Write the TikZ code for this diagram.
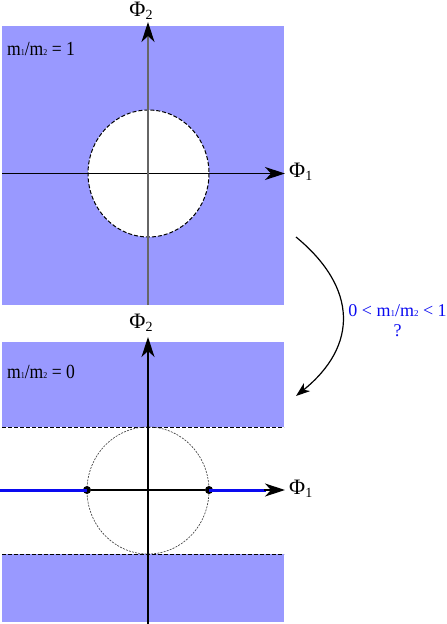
\documentclass[tikz,border=0pt]{standalone}
\usepackage{fontspec}
\setmainfont{Liberation Serif}
\usetikzlibrary{arrows.meta}
\definecolor{region}{RGB}{153,153,255}
\definecolor{linkblue}{RGB}{10,10,240}
\newcommand{\smallsub}[1]{{\fontsize{9}{9}\selectfont #1}}
\newcommand{\phisub}[1]{\raisebox{-3pt}{\fontsize{14}{14}\selectfont #1}}
\newcommand{\ratiotext}[1]{\scalebox{0.88}[1]{#1}}
\tikzset{
  axis/.style={line width=1.2pt, -{Stealth[length=20pt,width=13pt,inset=6pt,color=black]}},
  philabel/.style={font=\fontsize{22}{22}\selectfont, inner sep=0pt},
  ratio/.style={font=\fontsize{20}{20}\selectfont, inner sep=0pt, anchor=west},
  bound/.style={line width=1pt, dash pattern=on 4pt off 2pt},
  ghost/.style={line width=0.6pt, dash pattern=on 2pt off 1.2pt, draw=black!80},
  dot/.style={circle, fill=black, inner sep=0pt, minimum size=8pt},
  flow/.style={line width=3pt, draw=linkblue},
}
\begin{document}
\begin{tikzpicture}[x=1pt,y=-1pt]
\useasboundingbox (0,0) rectangle (447,624);
% ---------- top panel ----------
\fill[region] (2,26) rectangle (284,305);
\draw[bound, fill=white] (148.5,173.5) ellipse [x radius=60.5, y radius=63.5];
\coordinate (t1s) at (2,173.5);
\coordinate (t1e) at (285,173.5);
\coordinate (t2s) at (148,305);
\coordinate (t2e) at (148,22);
\draw[axis] (t1s) -- (t1e);
\draw[axis, draw=black!60] (t2s) -- (t2e);
\node[philabel, anchor=west] (tphi1) at (289,172) {Φ\phisub{1}};
\node[philabel] (tphi2) at (141,11) {Φ\phisub{2}};
\node[ratio] (tratio) at (7,49) {\ratiotext{m\smallsub{1}/m\smallsub{2} = 1}};
% ---------- bottom panel ----------
\fill[region] (2,342) rectangle (284,427);
\fill[region] (2,554) rectangle (284,622);
\draw[bound] (2,427) -- (284,427);
\draw[bound] (2,554) -- (284,554);
\draw[ghost] (148,490.5) ellipse [x radius=61, y radius=63.5];
\node[dot] (dl) at (87,490) {};
\node[dot] (dr) at (209,490) {};
\coordinate (b1s) at (0,490);
\coordinate (b1e) at (285,490);
\coordinate (b2s) at (148,624);
\coordinate (b2e) at (148,337);
\draw[flow] (b1s) -- (dl.center);
\draw[flow] (dr.center) -- (266,490);
\draw[line width=1.2pt] (dl) -- (dr);
\draw[axis] (264,490) -- (b1e);
\draw[axis] (b2s) -- (b2e);
\node[philabel, anchor=west] (bphi1) at (289,489) {Φ\phisub{1}};
\node[philabel] (bphi2) at (141,323) {Φ\phisub{2}};
\node[ratio] (bratio) at (7,372) {\ratiotext{m\smallsub{1}/m\smallsub{2} = 0}};
% ---------- transition arrow ----------
\coordinate (ca) at (296,237);
\coordinate (cb) at (296,396);
\draw[line width=1.2pt, -{Stealth[length=14pt,width=10pt,inset=4pt]}] (ca) .. controls (358,288) and (358,346) .. (cb);
\node[font=\fontsize{18}{20}\selectfont, text=linkblue, inner sep=0pt, align=center] (clabel) at (397.5,321) {0 < m\smallsub{1}/m\smallsub{2} < 1\\?};
\end{tikzpicture}
\end{document}
